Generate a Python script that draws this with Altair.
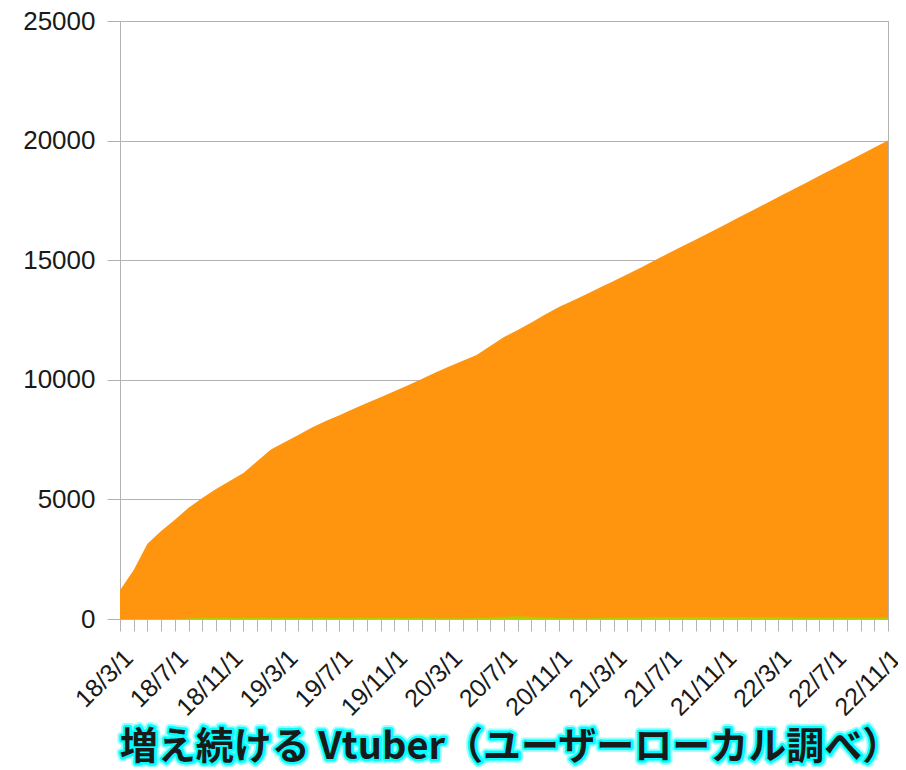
import json
import altair as alt
import pandas as pd

months = [
    "18/3/1", "18/4/1", "18/5/1", "18/6/1", "18/7/1", "18/8/1", "18/9/1", "18/10/1", "18/11/1", "18/12/1",
    "19/1/1", "19/2/1", "19/3/1", "19/4/1", "19/5/1", "19/6/1", "19/7/1", "19/8/1", "19/9/1", "19/10/1", "19/11/1", "19/12/1",
    "20/1/1", "20/2/1", "20/3/1", "20/4/1", "20/5/1", "20/6/1", "20/7/1", "20/8/1", "20/9/1", "20/10/1", "20/11/1", "20/12/1",
    "21/1/1", "21/2/1", "21/3/1", "21/4/1", "21/5/1", "21/6/1", "21/7/1", "21/8/1", "21/9/1", "21/10/1", "21/11/1", "21/12/1",
    "22/1/1", "22/2/1", "22/3/1", "22/4/1", "22/5/1", "22/6/1", "22/7/1", "22/8/1", "22/9/1", "22/10/1", "22/11/1",
]

vtubers = [
    1200, 2050, 3150, 3680, 4150, 4650, 5060, 5430, 5770, 6100,
    6590, 7090, 7390, 7690, 8010, 8280, 8520, 8780, 9030, 9270, 9520, 9770,
    10030, 10300, 10560, 10800, 11040, 11410, 11790, 12080, 12400, 12730, 13040, 13300,
    13580, 13860, 14130, 14410, 14690, 15000, 15290, 15580, 15870, 16160, 16450, 16750,
    17050, 17340, 17640, 17930, 18230, 18530, 18820, 19120, 19410, 19710, 20000,
]

second_series = [
    0, 0, 0, 0, 0, 20, 50, 50, 50, 50,
    50, 50, 50, 50, 50, 50, 50, 50, 50, 50, 50, 40,
    40, 30, 30, 30, 40, 60, 90, 110, 80, 60, 40, 30,
    30, 40, 50, 60, 70, 80, 80, 80, 80, 80, 80, 80,
    80, 80, 80, 70, 60, 60, 60, 60, 60, 60, 60,
]

shown_labels = months[::4]
y_ticks = [0, 5000, 10000, 15000, 20000, 25000]
title_text = "増え続ける Vtuber（ユーザーローカル調べ）"

df = pd.DataFrame({"month": months, "total": vtubers, "second": second_series})

label_expr = f"indexof({json.dumps(shown_labels)}, datum.value) >= 0 ? datum.value : ''"

x_enc = alt.X(
    "month:O",
    sort=months,
    scale=alt.Scale(type="point", padding=0),
    axis=alt.Axis(
        title=None,
        labelAngle=-45,
        labelAlign="right",
        labelBaseline="top",
        labelExpr=label_expr,
        labelFont="Liberation Sans",
        labelFontSize=25,
        labelColor="#1a1a1a",
        labelPadding=14,
        labelOverlap=False,
        labelBound=False,
        tickSize=12,
        tickColor="#b3b3b3",
        domainColor="#b3b3b3",
        grid=False,
    ),
)

y_scale = alt.Scale(domain=[0, 25000], nice=False)

orange = alt.Chart(df).mark_area(color="#ff950e", opacity=1).encode(
    x=x_enc,
    y=alt.Y(
        "total:Q",
        scale=y_scale,
        axis=alt.Axis(
            title=None,
            values=y_ticks,
            format="d",
            labelFont="Liberation Sans",
            labelFontSize=26,
            labelColor="#1a1a1a",
            labelPadding=12,
            tickSize=13,
            tickColor="#b3b3b3",
            domainColor="#b3b3b3",
            gridColor="#b3b3b3",
            gridWidth=1,
        ),
    ),
)

green = alt.Chart(df).mark_area(color="#aecf00", opacity=1).encode(
    x=alt.X("month:O", sort=months, scale=alt.Scale(type="point", padding=0)),
    y=alt.Y("second:Q", scale=y_scale),
)

tdf = pd.DataFrame({"t": [title_text]})
base_t = alt.Chart(tdf)
tx, ty, fs = 390, 727, 38
glow1 = base_t.mark_text(
    font="Noto Sans CJK JP", fontWeight="bold", fontSize=fs, align="center", baseline="middle",
    color="#00ffff", stroke="#00ffff", strokeWidth=9, strokeOpacity=0.4, strokeJoin="round",
).encode(text="t:N", x=alt.value(tx), y=alt.value(ty))
glow2 = base_t.mark_text(
    font="Noto Sans CJK JP", fontWeight="bold", fontSize=fs, align="center", baseline="middle",
    color="#00ffff", stroke="#00ffff", strokeWidth=5, strokeJoin="round",
).encode(text="t:N", x=alt.value(tx), y=alt.value(ty))
fill_t = base_t.mark_text(
    font="Noto Sans CJK JP", fontWeight="bold", fontSize=fs, align="center", baseline="middle",
    color="#1a1a1a",
).encode(text="t:N", x=alt.value(tx), y=alt.value(ty))

chart = alt.layer(orange, green, glow1, glow2, fill_t).properties(
    width=768,
    height=598,
    autosize=alt.AutoSizeParams(type="none"),
    padding={"left": 112, "top": 13, "right": 10, "bottom": 148},
    background="white",
).configure_view(stroke="#b3b3b3", strokeWidth=1)

chart.save("out.html", embed_options={"renderer": "svg", "actions": False})
